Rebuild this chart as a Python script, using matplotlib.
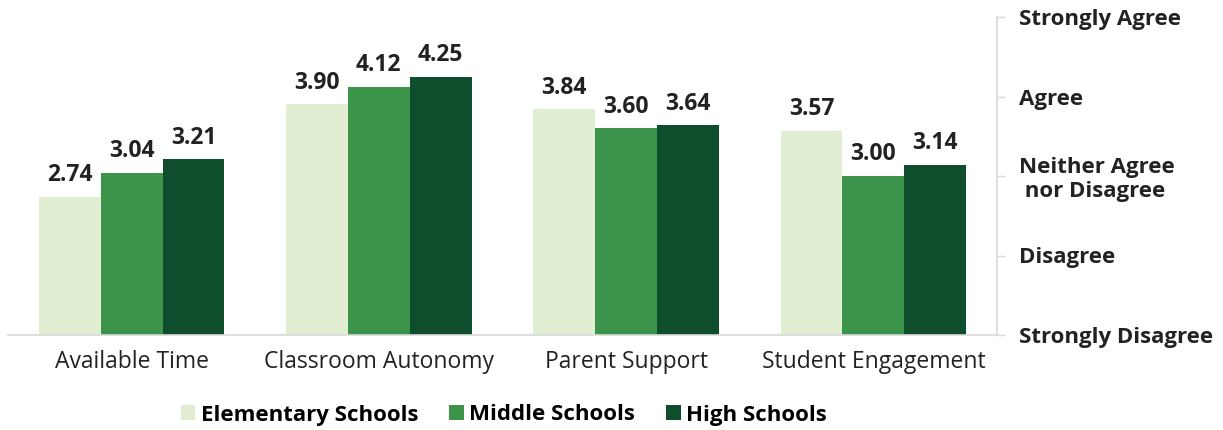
import matplotlib
matplotlib.use("Agg")
import matplotlib.pyplot as plt
import numpy as np
from matplotlib.patches import Patch

categories = ["Available Time", "Classroom Autonomy", "Parent Support", "Student Engagement"]
series_names = ["Elementary Schools", "Middle Schools", "High Schools"]
elementary = [2.74, 3.90, 3.84, 3.57]
middle = [3.04, 4.12, 3.60, 3.00]
high = [3.21, 4.25, 3.64, 3.14]
y_levels = [1, 2, 3, 4, 5]
y_labels = ["Strongly Disagree", "Disagree", "Neither Agree\n nor Disagree", "Agree", "Strongly Agree"]

colors = ["#e1eed2", "#3c944b", "#0f4e2c"]
font = "Open Sans"

fig = plt.figure(figsize=(12.23, 4.30), dpi=100)
ax = fig.add_axes([8/1223, 1 - 335/430, (997-8)/1223, (335-17)/430])

x = np.arange(len(categories))
w = 0.25
for i, (vals, c, name) in enumerate(zip([elementary, middle, high], colors, series_names)):
    pos = x + (i - 1) * w
    ax.bar(pos, vals, width=w, color=c, bottom=0, zorder=2, label=name)
    for p, v in zip(pos, vals):
        ax.text(p, v + 0.12, f"{v:.2f}", ha="center", va="bottom", fontsize=16.5,
                fontweight="bold", family=font, color="#222222")

ax.set_xlim(-0.5, 3.5)
ax.set_ylim(1, 5)
ax.yaxis.tick_right()
ax.set_yticks(y_levels)
ax.set_yticklabels(y_labels, fontsize=16, fontweight="bold", family=font, color="#222222", ha="left",
                   linespacing=1.15)
ax.tick_params(axis="y", which="both", length=6, width=1, color="#d9d9d9", pad=10)
ax.set_xticks(x)
ax.set_xticklabels(categories, fontsize=16.5, family=font, color="#222222")
ax.tick_params(axis="x", length=0, pad=11)

for s in ["top", "left"]:
    ax.spines[s].set_visible(False)
ax.spines["right"].set_color("#d9d9d9")
ax.spines["bottom"].set_color("#d9d9d9")
ax.spines["right"].set_linewidth(1.2)
ax.spines["bottom"].set_linewidth(1.2)

handles = [Patch(facecolor=c, edgecolor="none", label=n) for c, n in zip(colors, series_names)]
fig.legend(handles=handles, loc="center", bbox_to_anchor=(504/1223, 1 - 415/430), ncol=3,
           frameon=False, prop={"family": font, "weight": "bold", "size": 16},
           handlelength=0.65, handleheight=0.65, handletextpad=0.25, columnspacing=1.4)

fig.savefig("out.png", dpi=100)
